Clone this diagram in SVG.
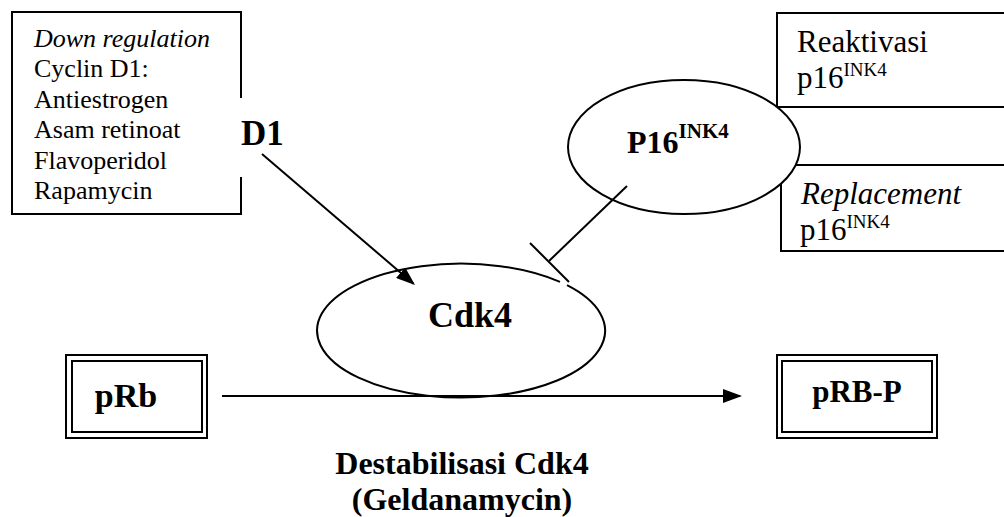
<svg xmlns="http://www.w3.org/2000/svg" width="1004" height="517" viewBox="0 0 1004 517">
  <style>
    .frame { fill: none; stroke: #000; stroke-width: 2; }
    .oval { fill: #fff; stroke: #000; stroke-width: 2; }
    .link { fill: none; stroke: #000; stroke-width: 2; }
    text { font-family: "Liberation Serif", "Times New Roman", serif; fill: #000; }
    .b { font-weight: bold; }
    .i { font-style: italic; }
  </style>
  <defs>
    <marker id="head" markerUnits="userSpaceOnUse" markerWidth="20" markerHeight="14" refX="17" refY="7" orient="auto">
      <path d="M0,0 L19,7 L0,14 z" fill="#000"/>
    </marker>
  </defs>

  <rect width="1004" height="517" fill="#fff"/>

  <!-- inhibitor list for cyclin D1 -->
  <g id="d1-inhibitors">
    <path class="frame" d="M241,98 L241,12 L12,12 L12,214 L241,214 L241,177"/>
    <text x="34" y="47" font-size="26" class="i">Down regulation</text>
    <text x="34" y="77" font-size="26">Cyclin D1:</text>
    <text x="34" y="108" font-size="26">Antiestrogen</text>
    <text x="34" y="138" font-size="26">Asam retinoat</text>
    <text x="34" y="169" font-size="26">Flavoperidol</text>
    <text x="34" y="199" font-size="26">Rapamycin</text>
  </g>

  <!-- p16 therapy boxes -->
  <g id="reaktivasi">
    <rect class="frame" x="777" y="13" width="240" height="94"/>
    <text x="797" y="52" font-size="31">Reaktivasi</text>
    <text x="797" y="88" font-size="31">p16<tspan dy="-12" font-size="19">INK4</tspan></text>
  </g>
  <g id="replacement">
    <rect class="frame" x="781" y="165" width="240" height="86"/>
    <text x="801" y="204" font-size="31" class="i">Replacement</text>
    <text x="800" y="240" font-size="31">p16<tspan dy="-12" font-size="19">INK4</tspan></text>
  </g>

  <!-- p16 ellipse -->
  <g id="p16">
    <ellipse class="oval" cx="684" cy="147" rx="116" ry="67"/>
    <text x="627" y="153" font-size="32" class="b">P16<tspan dy="-15" font-size="21">INK4</tspan></text>
  </g>

  <!-- D1 label -->
  <g id="d1">
    <text x="241" y="145" font-size="35" class="b">D1</text>
  </g>

  <!-- Cdk4 ellipse, broken where the inhibition bar meets it -->
  <g id="cdk4">
    <path class="oval" d="M567,285.2 A144,67 0 1 1 560,281.9"/>
    <text x="470" y="327" font-size="36" class="b" text-anchor="middle">Cdk4</text>
  </g>

  <!-- Rb boxes -->
  <g id="prb">
    <rect class="frame" x="66" y="355" width="141" height="83"/>
    <rect class="frame" x="72" y="361" width="130" height="71"/>
    <text x="126" y="407" font-size="34" class="b" text-anchor="middle">pRb</text>
  </g>
  <g id="prb-p">
    <rect class="frame" x="777" y="355" width="160" height="83"/>
    <rect class="frame" x="782" y="361" width="150" height="71"/>
    <text x="857" y="402" font-size="31" class="b" text-anchor="middle">pRB-P</text>
  </g>

  <!-- connectors -->
  <g id="connectors">
    <line class="link" x1="262" y1="154" x2="413.5" y2="283.7" marker-end="url(#head)"/>
    <line class="link" x1="222" y1="396" x2="740" y2="396" marker-end="url(#head)"/>
    <line class="link" x1="627" y1="186" x2="549" y2="261"/>
    <line class="link" x1="530" y1="243" x2="569" y2="282"/>
  </g>

  <!-- caption -->
  <g id="caption">
    <text x="462" y="474" font-size="32" class="b" text-anchor="middle">Destabilisasi Cdk4</text>
    <text x="462" y="510" font-size="32" class="b" text-anchor="middle">(Geldanamycin)</text>
  </g>
</svg>
